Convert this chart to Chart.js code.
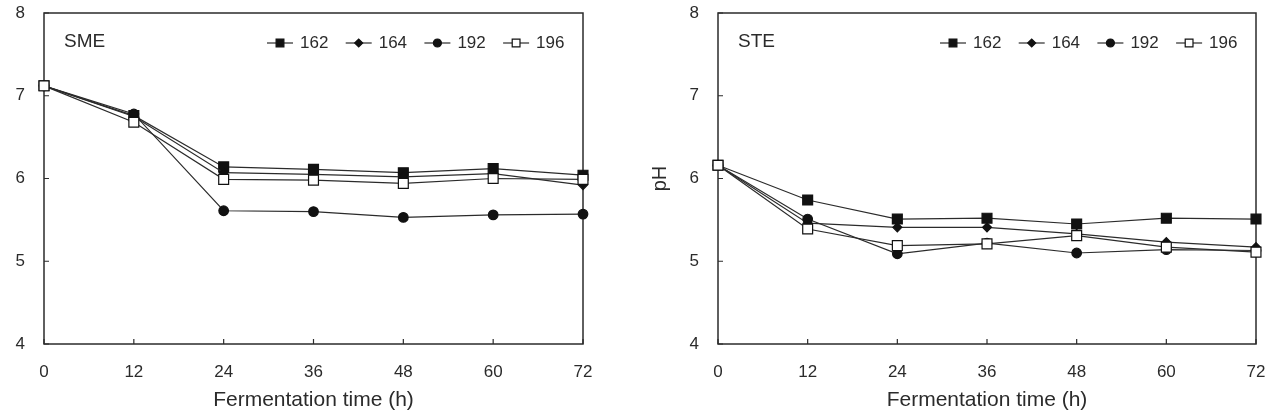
<!DOCTYPE html>
<html>
<head>
<meta charset="utf-8">
<script src="https://cdn.jsdelivr.net/npm/chart.js@4.4.1/dist/chart.umd.min.js"></script>
<style>
  html, body { margin: 0; padding: 0; background: #fff; overflow: hidden; }
  .panel { position: absolute; top: 0; width: 635px; height: 411px; }
  canvas { display: block; }
</style>
</head>
<body>
<div class="panel" style="left:0"><canvas id="smeChart" width="635" height="411"></canvas></div>
<div class="panel" style="left:635px"><canvas id="steChart" width="635" height="411"></canvas></div>
<script>
// Fermentation time (h)
const hours = [0, 12, 24, 36, 48, 60, 72];
const seriesNames = ['162', '164', '192', '196'];

// SME panel, pH
const sme162 = [7.12, 6.76, 6.14, 6.11, 6.07, 6.12, 6.04];
const sme164 = [7.12, 6.75, 6.07, 6.05, 6.02, 6.06, 5.92];
const sme192 = [7.12, 6.78, 5.61, 5.60, 5.53, 5.56, 5.57];
const sme196 = [7.12, 6.68, 5.99, 5.98, 5.94, 6.00, 5.99];

// STE panel, pH
const ste162 = [6.16, 5.74, 5.51, 5.52, 5.45, 5.52, 5.51];
const ste164 = [6.16, 5.46, 5.41, 5.41, 5.33, 5.23, 5.17];
const ste192 = [6.16, 5.51, 5.09, 5.22, 5.10, 5.14, 5.13];
const ste196 = [6.16, 5.39, 5.19, 5.21, 5.31, 5.17, 5.11];

const yTicks = [4, 5, 6, 7, 8];

const FONT = '"Liberation Sans", Arial, sans-serif';
const INK = '#2b2b2b';

// marker style per series: filled square, filled diamond, filled circle, open square
const markers = [
    { pointStyle: 'rect',    radius: 7,   legendRadius: 5.5, fill: '#111' },
    { pointStyle: 'rectRot', radius: 4.5, legendRadius: 4,   fill: '#111' },
    { pointStyle: 'circle',  radius: 4.8, legendRadius: 4,   fill: '#111' },
    { pointStyle: 'rect',    radius: 7,   legendRadius: 5.5, fill: '#fff' }
];

function makeDatasets(values) {
    return values.map((vals, i) => ({
        label: seriesNames[i],
        data: hours.map((h, j) => ({ x: h, y: vals[j] })),
        borderColor: INK,
        borderWidth: 1.2,
        pointStyle: markers[i].pointStyle,
        pointRadius: markers[i].radius,
        pointBackgroundColor: markers[i].fill,
        pointBorderColor: '#111',
        pointBorderWidth: 1.2,
        order: values.length - i,
        clip: false,
        tension: 0
    }));
}

// box frame + inward ticks, drawn under the data
const framePlugin = {
    id: 'frame',
    beforeDatasetsDraw(chart) {
        const { ctx, chartArea: a, scales } = chart;
        ctx.save();
        ctx.strokeStyle = INK;
        ctx.lineWidth = 1.5;
        ctx.strokeRect(a.left, a.top, a.right - a.left, a.bottom - a.top);
        ctx.lineWidth = 1.2;
        ctx.beginPath();
        scales.x.ticks.forEach(t => {
            const px = scales.x.getPixelForValue(t.value);
            ctx.moveTo(px, a.bottom);
            ctx.lineTo(px, a.bottom - 5);
        });
        scales.y.ticks.forEach(t => {
            const py = scales.y.getPixelForValue(t.value);
            ctx.moveTo(a.left, py);
            ctx.lineTo(a.left + 5, py);
        });
        ctx.stroke();
        ctx.restore();
    },
    afterDatasetsDraw(chart, args, opts) {
        const { ctx, chartArea: a } = chart;
        ctx.save();
        // panel label
        ctx.fillStyle = INK;
        ctx.font = '19px ' + FONT;
        ctx.textBaseline = 'middle';
        ctx.textAlign = 'left';
        ctx.fillText(opts.label, a.left + 20, a.top + 29);
        // legend with line-through markers
        ctx.font = '17px ' + FONT;
        const ly = a.top + 30;
        chart.data.datasets.forEach((ds, i) => {
            const x0 = a.right - 316 + i * 78.7;
            ctx.strokeStyle = INK;
            ctx.lineWidth = 1.2;
            ctx.beginPath();
            ctx.moveTo(x0, ly);
            ctx.lineTo(x0 + 26, ly);
            ctx.stroke();
            ctx.fillStyle = markers[i].fill;
            ctx.strokeStyle = '#111';
            Chart.helpers.drawPoint(ctx, {
                pointStyle: markers[i].pointStyle,
                radius: markers[i].legendRadius,
                rotation: 0,
                borderWidth: 1.2
            }, x0 + 13, ly);
            ctx.fillStyle = INK;
            ctx.fillText(ds.label, x0 + 33, ly);
        });
        ctx.restore();
    }
};

function makeChart(id, values, label, yWidth, rightPad, showYTitle) {
    return new Chart(document.getElementById(id), {
        type: 'line',
        data: { datasets: makeDatasets(values) },
        plugins: [framePlugin],
        options: {
            responsive: false,
            animation: false,
            events: [],
            layout: { padding: { top: 13, right: rightPad, left: 0, bottom: 0 } },
            plugins: {
                legend: { display: false },
                tooltip: { enabled: false },
                frame: { label: label }
            },
            scales: {
                x: {
                    type: 'linear',
                    min: 0,
                    max: 72,
                    afterBuildTicks: s => { s.ticks = hours.map(v => ({ value: v })); },
                    afterFit: s => { s.height = 67; s.paddingLeft = 0; s.paddingRight = 0; },
                    grid: { display: false, drawTicks: false },
                    border: { display: false },
                    ticks: { color: INK, padding: 18, font: { family: FONT, size: 17 } },
                    title: {
                        display: true,
                        text: 'Fermentation time (h)',
                        color: INK,
                        padding: { top: 0, bottom: -1.5 },
                        font: { family: FONT, size: 21 }
                    }
                },
                y: {
                    type: 'linear',
                    min: 4,
                    max: 8,
                    afterBuildTicks: s => { s.ticks = yTicks.map(v => ({ value: v })); },
                    afterFit: s => { s.width = yWidth; s.paddingTop = 0; s.paddingBottom = 0; },
                    grid: { display: false, drawTicks: false },
                    border: { display: false },
                    ticks: { color: INK, padding: 19, font: { family: FONT, size: 17 } },
                    title: {
                        display: showYTitle,
                        text: 'pH',
                        color: INK,
                        padding: { top: 13, bottom: 0 },
                        font: { family: FONT, size: 20 }
                    }
                }
            }
        }
    });
}

makeChart('smeChart', [sme162, sme164, sme192, sme196], 'SME', 44, 52, false);
makeChart('steChart', [ste162, ste164, ste192, ste196], 'STE', 83, 14, true);
</script>
</body>
</html>
